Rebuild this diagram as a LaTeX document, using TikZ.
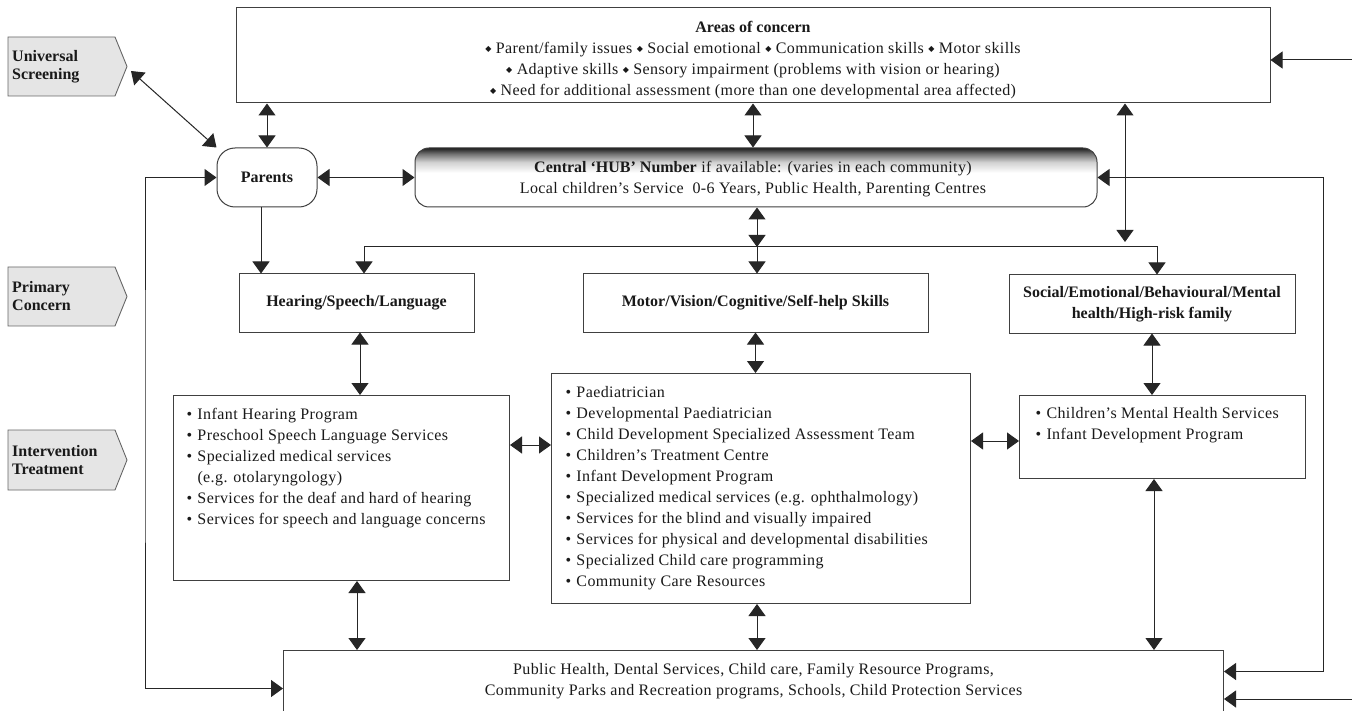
\documentclass[tikz,border=0pt]{standalone}
\usepackage{fontspec}
\setmainfont{Liberation Serif}[LetterSpace=2.5, BoldFeatures={LetterSpace=0}]
\newfontfamily\symf{DejaVu Sans}
\usetikzlibrary{arrows.meta,calc}
\pgfdeclareverticalshading{hubshade}{100bp}{color(0bp)=(white); color(25bp)=(white); color(54bp)=(white); color(63bp)=(black!18); color(70bp)=(black!55); color(75bp)=(black!88); color(100bp)=(black!88)}
\newcommand\dmd{\raisebox{2pt}{\symf\fontsize{8}{8}\selectfont ◆}}
\newcommand\bl{\makebox[11pt][l]{•}}
\begin{document}
\begin{tikzpicture}[x=1pt,y=-1pt,
  every node/.style={font=\fontsize{16}{21}\selectfont, text=black!90},
  bfont/.style={font=\bfseries\fontsize{16}{21}\selectfont},
  box/.style={draw=black!75, line width=1pt, fill=white, inner sep=0pt},
  tagbox/.style={draw=black!60, fill=black!10, line width=0.9pt},
  tagtext/.style={font=\bfseries\fontsize{16}{18}\selectfont, align=left, inner sep=0pt, anchor=west},
  con/.style={draw=black!85, line width=1pt},
  arr/.style={con, -{Triangle[width=17pt,length=12pt]}},
  dbl/.style={con, {Triangle[width=17pt,length=12pt]}-{Triangle[width=17pt,length=12pt]}},
]
\useasboundingbox (0,0) rectangle (1352,711);
\fill[white] (0,0) rectangle (1352,711);

% side tags
\draw[tagbox] (8,37) -- (115,37) -- (127,66.5) -- (115,96) -- (8,96) -- cycle;
\node[tagtext] (tagU) at (12,66.5) {Universal\\Screening};
\draw[tagbox] (8,267) -- (115,267) -- (127,296.5) -- (115,326) -- (8,326) -- cycle;
\node[tagtext] (tagP) at (12,296.5) {Primary\\Concern};
\draw[tagbox] (8,430) -- (115,430) -- (127,460) -- (115,490) -- (8,490) -- cycle;
\node[tagtext] (tagI) at (12,460) {Intervention\\Treatment};

% top box
\node[box, minimum width=1034pt, minimum height=95pt, align=center] (areas) at (753,55.5)
 {\rule{0pt}{21pt}\textbf{Areas of concern}\\
  \dmd\ Parent/family issues\ \dmd\ Social emotional\ \dmd\ Communication skills\ \dmd\ Motor skills\\
  \dmd\ Adaptive skills\ \dmd\ Sensory impairment (problems with vision or hearing)\\
  \dmd\ Need for additional assessment (more than one developmental area affected)};

% parents and hub
\node[box, bfont, rounded corners=18pt, minimum width=100pt, minimum height=59pt] (parents) at (267,177.5) {Parents};
\node[draw=black!75, line width=1pt, rounded corners=14pt, shading=hubshade, minimum width=682pt, minimum height=59pt, inner sep=0pt] (hub) at (756,177.5) {};
\node[align=center, inner sep=0pt] (hubtext) at (753,179.5)
 {\textbf{Central ‘HUB’ Number} if available: (varies in each community)\\
  Local children’s Service\ \ 0-6 Years, Public Health, Parenting Centres};

% primary concern boxes
\node[box, bfont, minimum width=235pt, minimum height=58pt] (hearing) at (356.5,303) {Hearing/Speech/Language};
\node[box, bfont, minimum width=345pt, minimum height=58pt] (motor) at (755.5,303) {Motor/Vision/Cognitive/Self-help Skills};
\node[box, bfont, minimum width=286pt, minimum height=58pt, align=center] (social) at (1152,304) {Social/Emotional/Behavioural/Mental\\health/High-risk family};

% intervention boxes
\node[box, anchor=north west, inner xsep=13pt, inner ysep=0pt] (leftint) at (173,395)
 {\parbox[t][185pt][t]{310pt}{\rule{0pt}{24pt}\bl Infant Hearing Program\\
  \bl Preschool Speech Language Services\\
  \bl Specialized medical services\\
  \hspace*{11pt}(e.g. otolaryngology)\\
  \bl Services for the deaf and hard of hearing\\
  \bl Services for speech and language concerns}};
\node[box, anchor=north west, inner xsep=14pt, inner ysep=0pt] (midint) at (551,373)
 {\parbox[t][230pt][t]{391pt}{\rule{0pt}{24pt}\bl Paediatrician\\
  \bl Developmental Paediatrician\\
  \bl Child Development Specialized Assessment Team\\
  \bl Children’s Treatment Centre\\
  \bl Infant Development Program\\
  \bl Specialized medical services (e.g. ophthalmology)\\
  \bl Services for the blind and visually impaired\\
  \bl Services for physical and developmental disabilities\\
  \bl Specialized Child care programming\\
  \bl Community Care Resources}};
\node[box, anchor=north west, inner xsep=16pt, inner ysep=0pt] (rightint) at (1019,395)
 {\parbox[t][83pt][t]{254pt}{\rule{0pt}{23pt}\bl Children’s Mental Health Services\\
  \bl Infant Development Program}};

% bottom box
\node[box, anchor=north west, minimum width=940pt, minimum height=62pt, align=center] (bottom) at (283,650)
 {Public Health, Dental Services, Child care, Family Resource Programs,\\
  Community Parks and Recreation programs, Schools, Child Protection Services};

% connectors
\coordinate (ustip) at (131,71);
\draw[dbl] (ustip) -- (parents.north west);
\draw[dbl] (parents.north |- areas.south) -- (parents.north);
\draw[dbl] (areas.south) -- (areas.south |- hub.north);
\draw[dbl] (parents.east) -- (hub.west);
\coordinate (socin) at (1125,242);
\draw[dbl] (socin |- areas.south) -- (socin);
\coordinate (br) at (757,247);
\draw[dbl] (br |- hub.south) -- (br);
\draw[arr] (br) -| ([xshift=7.5pt]hearing.north);
\draw[arr] (br) -| ([xshift=5pt]social.north);
\draw[arr] (br) -- (br |- motor.north);
\draw[arr] ([xshift=-6pt]parents.south) -- ([xshift=-6pt]parents.south |- hearing.north);

\draw[dbl] ([xshift=3.5pt]hearing.south) -- ([xshift=3.5pt]hearing.south |- leftint.north);
\draw[dbl] (motor.south) -- (motor.south |- midint.north);
\draw[dbl] (social.south) -- (social.south |- rightint.north);

\coordinate (hL) at (0,445);
\draw[dbl] (hL -| leftint.east) -- (hL -| midint.west);
\coordinate (hR) at (0,441);
\draw[dbl] (hR -| midint.east) -- (hR -| rightint.west);

\coordinate (vL) at (357,0);
\draw[dbl] (vL |- leftint.south) -- (vL |- bottom.north);
\coordinate (vM) at (757,0);
\draw[dbl] (vM |- midint.south) -- (vM |- bottom.north);
\coordinate (vR) at (1154,0);
\draw[dbl] (vR |- rightint.south) -- (vR |- bottom.north);

\coordinate (loopL) at (145,400);
\draw[dbl] (parents.west) -| (loopL) |- ([yshift=-7pt]bottom.west);
\coordinate (loopR) at (1323,400);
\draw[dbl] (hub.east) -| (loopR) |- ([yshift=10pt]bottom.east);

\coordinate (inA) at (1352,60);
\draw[arr] (inA) -- (inA -| areas.east);
\coordinate (inB) at (1352,699);
\draw[arr] (inB) -- (inB -| bottom.east);
\end{tikzpicture}
\end{document}
